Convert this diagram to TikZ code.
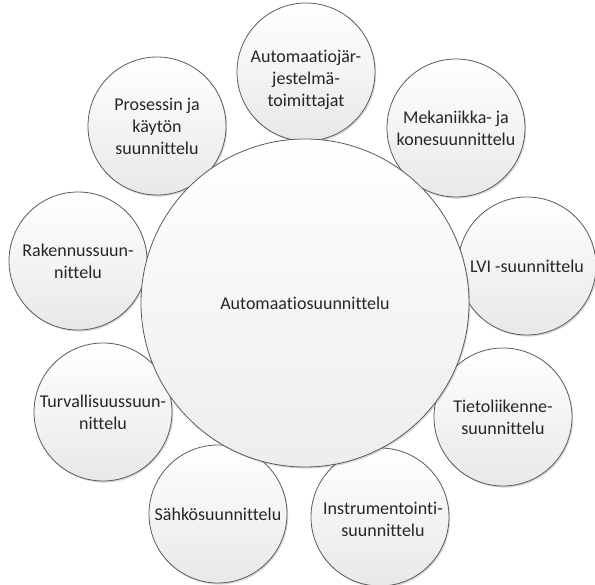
\documentclass[tikz,border=0pt]{standalone}
\usepackage{fontspec}
\setmainfont{Carlito}[Ligatures={NoCommon}]
\usetikzlibrary{shadows}
\definecolor{rim}{HTML}{5A5A5A}
\definecolor{ink}{HTML}{262626}
\tikzset{
  bubble/.style={circle, draw=rim, line width=0.8pt, inner sep=0pt,
    minimum size=138pt, top color=white, bottom color=black!9,
    drop shadow={shadow xshift=1.2pt, shadow yshift=-1.6pt, opacity=0.25, fill=black!60}},
  hub/.style={bubble, minimum size=328pt, bottom color=black!7},
  txt/.style={align=center, text=ink, inner sep=0pt,
    font=\fontsize{18}{22}\selectfont}
}
\begin{document}
\begin{tikzpicture}[x=1pt, y=-1pt]
\useasboundingbox (0,0) rectangle (595,585);
% outer ring of design disciplines
\node[bubble] (c1) at (306,72) {};
\node[txt] (t1) at (306,80) {Automaatiojär-\\jestelmä-\\toimittajat};
\node[bubble] (c2) at (456,128) {};
\node[txt] (t2) at (c2) {Mekaniikka- ja\\konesuunnittelu};
\node[bubble] (c3) at (527,266) {};
\node[txt] (t3) at (c3) {LVI -suunnittelu};
\node[bubble] (c4) at (503,417) {};
\node[txt] (t4) at (c4) {Tietoliikenne-\\suunnittelu};
\node[bubble] (c5) at (380,517) {};
\node[txt] (t5) at (383,519) {Instrumentointi-\\suunnittelu};
\node[bubble] (c6) at (218,514) {};
\node[txt] (t6) at (c6) {Sähkösuunnittelu};
\node[bubble] (c7) at (103,412) {};
\node[txt] (t7) at (c7) {Turvallisuussuun-\\nittelu};
\node[bubble] (c8) at (78,261) {};
\node[txt] (t8) at (c8) {Rakennussuun-\\nittelu};
\node[bubble] (c9) at (157,126) {};
\node[txt] (t9) at (c9) {Prosessin ja\\käytön\\suunnittelu};
% central circle on top
\node[hub] (c0) at (305,303) {};
\node[txt] (t0) at (c0) {Automaatiosuunnittelu};
\end{tikzpicture}
\end{document}
